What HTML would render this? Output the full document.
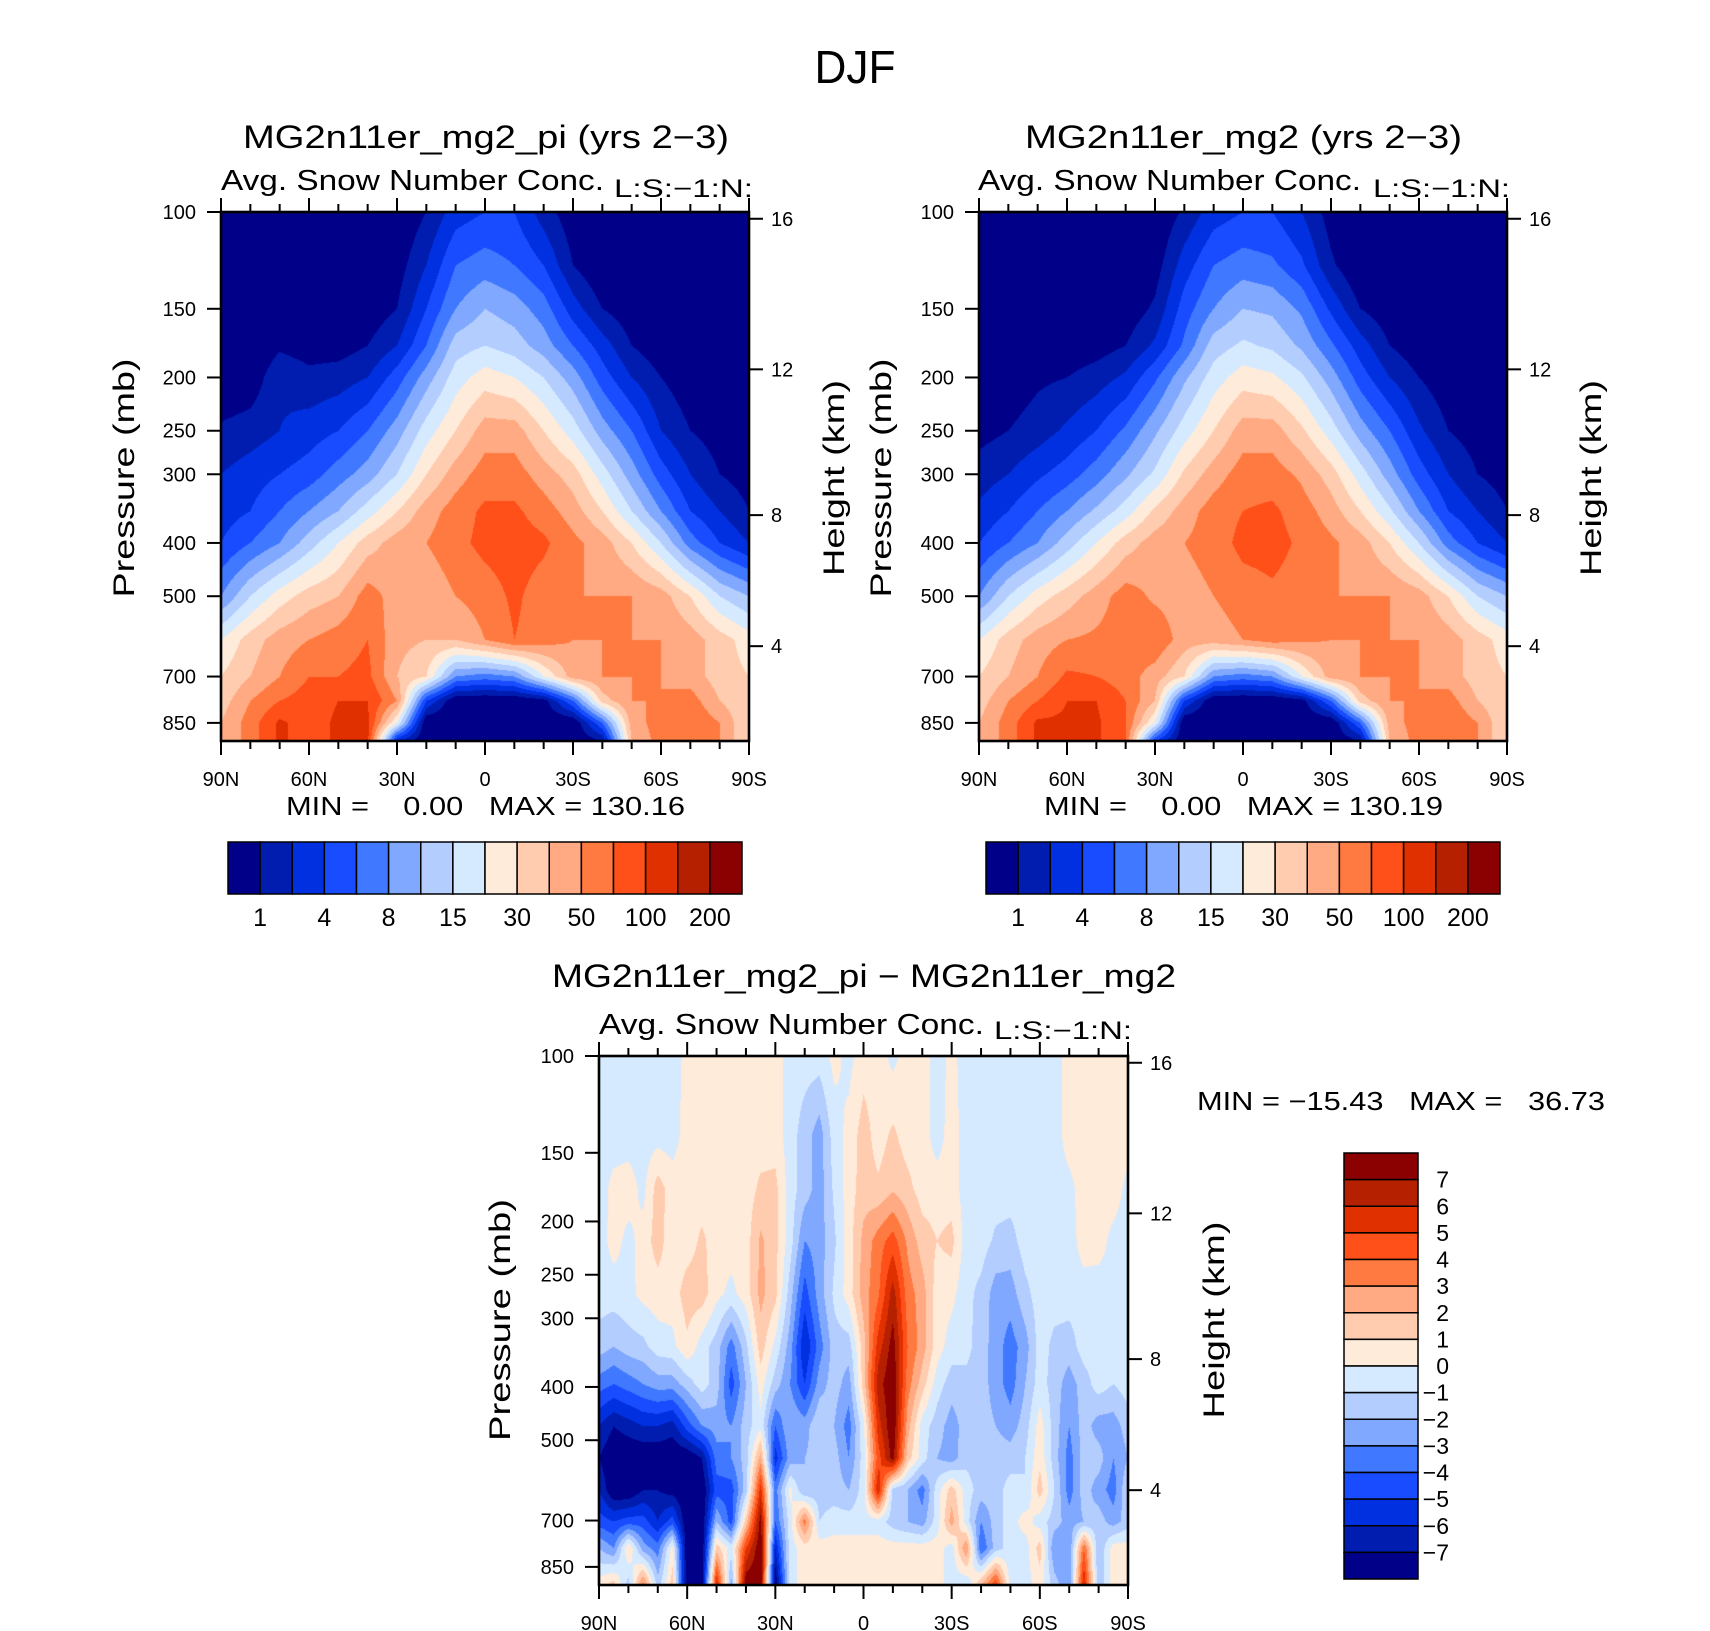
<!DOCTYPE html>
<html><head><meta charset="utf-8">
<style>
html,body{margin:0;padding:0;background:#fff;}
#wrap{position:relative;width:1710px;height:1631px;overflow:hidden;background:#fff;font-family:"Liberation Sans",sans-serif;}
canvas{position:absolute;}
svg{position:absolute;left:0;top:0;}
text{font-family:"Liberation Sans",sans-serif;fill:#000;}
</style></head>
<body>
<div id="wrap">
<canvas id="c1" width="528" height="529" style="left:221px;top:212px"></canvas>
<canvas id="c2" width="528" height="529" style="left:979px;top:212px"></canvas>
<canvas id="c3" width="529" height="529" style="left:599px;top:1056px"></canvas>
<svg id="ov" width="1710" height="1631">
<text x="855" y="83" text-anchor="middle" font-size="46" textLength="81" lengthAdjust="spacingAndGlyphs">DJF</text>
<text x="243" y="148" font-size="32" textLength="486" lengthAdjust="spacingAndGlyphs">MG2n11er_mg2_pi (yrs 2−3)</text>
<text x="1025" y="148" font-size="32" textLength="437" lengthAdjust="spacingAndGlyphs">MG2n11er_mg2 (yrs 2−3)</text>
<text x="552" y="987" font-size="32" textLength="624" lengthAdjust="spacingAndGlyphs">MG2n11er_mg2_pi − MG2n11er_mg2</text>
<text x="221" y="190" font-size="29" textLength="383" lengthAdjust="spacingAndGlyphs">Avg. Snow Number Conc.</text>
<text x="614" y="197" font-size="25" textLength="139" lengthAdjust="spacingAndGlyphs">L:S:−1:N:</text>
<text x="978" y="190" font-size="29" textLength="383" lengthAdjust="spacingAndGlyphs">Avg. Snow Number Conc.</text>
<text x="1373" y="197" font-size="25" textLength="137" lengthAdjust="spacingAndGlyphs">L:S:−1:N:</text>
<text x="599" y="1034" font-size="29" textLength="385" lengthAdjust="spacingAndGlyphs">Avg. Snow Number Conc.</text>
<text x="994" y="1039" font-size="25" textLength="138" lengthAdjust="spacingAndGlyphs">L:S:−1:N:</text>
<text x="286" y="815" font-size="26" xml:space="preserve" textLength="399" lengthAdjust="spacingAndGlyphs">MIN =    0.00   MAX = 130.16</text>
<text x="1044" y="815" font-size="26" xml:space="preserve" textLength="399" lengthAdjust="spacingAndGlyphs">MIN =    0.00   MAX = 130.19</text>
<text x="1197" y="1110" font-size="26" xml:space="preserve" textLength="408" lengthAdjust="spacingAndGlyphs">MIN = −15.43   MAX =   36.73</text>
<text transform="translate(134,478) rotate(-90)" text-anchor="middle" font-size="30" textLength="239" lengthAdjust="spacingAndGlyphs">Pressure (mb)</text>
<text transform="translate(891,478) rotate(-90)" text-anchor="middle" font-size="30" textLength="239" lengthAdjust="spacingAndGlyphs">Pressure (mb)</text>
<text transform="translate(510,1320) rotate(-90)" text-anchor="middle" font-size="30" textLength="242" lengthAdjust="spacingAndGlyphs">Pressure (mb)</text>
<text transform="translate(844,478) rotate(-90)" text-anchor="middle" font-size="30" textLength="196" lengthAdjust="spacingAndGlyphs">Height (km)</text>
<text transform="translate(1601,478) rotate(-90)" text-anchor="middle" font-size="30" textLength="196" lengthAdjust="spacingAndGlyphs">Height (km)</text>
<text transform="translate(1224,1320) rotate(-90)" text-anchor="middle" font-size="30" textLength="197" lengthAdjust="spacingAndGlyphs">Height (km)</text>
</svg>
</div>
<script>
// ---------- data ----------
const colors=['#000088','#001db0','#0030e0','#1a4cff','#4078ff','#80a8ff','#b4cdff','#d6eaff','#ffebda','#ffccb0','#ffaa82','#ff7a40','#ff5019','#e03000','#b52000','#8b0000'];
const absLevels=[1,2,4,6,8,10,15,20,30,40,50,70,100,150,200];
const absLabels=['1','4','8','15','30','50','100','200'];
const diffLevels=[-7,-6,-5,-4,-3,-2,-1,0,1,2,3,4,5,6,7];
const diffLabels=['7','6','5','4','3','2','1','0','−1','−2','−3','−4','−5','−6','−7'];
const latTickLabels=['90N','60N','30N','0','30S','60S','90S'];
const pressTicks=[100,150,200,250,300,400,500,700,850];
const heightTicks=[4,8,12,16];
const lats10=[90,80,70,60,50,40,30,20,10,0,-10,-20,-30,-40,-50,-60,-70,-80,-90];
const press1=[100,125,150,175,200,250,300,350,400,500,600,700,775,850,917];
const idx1=[
[0,0,0,0,0,0,0,1,2.5,3,3,1.5,0.3,0,0,0,0,0,0],
[0,0,0,0,0,0,0.5,2,4,4.5,4,3,1,0,0,0,0,0,0],
[0,0,0,0,0,0.3,1,3,5,6,5.5,4.5,2.5,1,0.3,0,0,0,0],
[0,0,0.8,0.5,0.5,1,2,4,6.5,7,6.5,5.5,4,2.5,1,0.3,0,0,0],
[0,0.3,1.8,1.3,1.5,2,3.5,5.5,7.5,8.5,8,7,5.5,3.5,2,1,0.3,0,0],
[1.2,1.5,2,2.5,3,4,5.5,7.5,9,10.5,10.5,9,7.5,5.5,4,2,1,0.5,0],
[2,2.5,3,3.5,4.5,5.5,7,9,10.5,11.5,11.5,10.5,9.5,7.5,5.5,3.5,2,1,0.5],
[2.5,3,4,5,6,7.5,9,10.5,11.5,12.2,12.2,11.5,10.5,9,7,5,3,2,1],
[3,4,5,6.5,8,9.5,10.5,11,11.7,12.3,12.5,12.2,11.3,10.5,9,7,4.5,3,2],
[5,7,8.5,9.5,10,11.5,10.5,10.2,11,11.5,12.2,11.5,11,11,11,10.5,9,7,6],
[8,9.5,10.5,11,11.5,12,10.3,10,10,11,12,11.5,11,11,11,11,10.5,9.5,8.5],
[9,10,11,12,12,12.3,10,9,5,4.5,5,8,10.5,11,11,11,10.5,9.5,9],
[9.5,11,12,12.5,13,13,11,3,0,0,0,0.5,4,9.5,11,11,11.5,10,9],
[10,11.5,13.2,12.5,13.2,13.2,8,0,0,0,0,0,0,4,10.5,11.5,12,11,9],
[10,11.5,13.2,12.5,13.2,13.3,2,0,0,0,0,0,0,1,10,11.5,12,11,9]];
const idx2=[
[0,0,0,0,0,0,0,1.2,2.5,3,3,2,0.5,0,0,0,0,0,0],
[0,0,0,0,0,0,0.5,2.5,4,4.5,4.2,3.2,1.2,0,0,0,0,0,0],
[0,0,0,0,0,0.3,1.2,3.5,5,6,5.8,4.8,2.8,1,0.3,0,0,0,0],
[0,0,0,0.3,0.5,1,2.2,4.2,6.5,7.2,6.8,5.8,4.2,2.5,1,0.3,0,0,0],
[0,0.3,0.8,1,1.5,2.2,3.8,5.8,7.5,8.5,8.2,7.2,5.5,3.5,2,1,0.3,0,0],
[0.6,1,1.5,2.2,3,4.2,5.8,7.5,9,10.5,10.5,9.2,7.5,5.5,4,2.2,1,0.5,0],
[1.5,2,2.8,3.5,4.5,5.8,7.2,9.2,10.5,11.5,11.5,10.8,9.5,7.5,5.5,3.5,2,1,0.5],
[2.2,3,4,5,6.2,7.5,9.2,10.5,11.5,12,12.2,11.5,10.5,9,7.2,5,3,2,1],
[3,4,5,6.5,8,9.5,10.5,11,11.5,12.3,12.4,11.8,11.2,10.5,9,7,4.5,3,2],
[5,7,8.5,9.5,10.5,11.5,10.8,10.5,11,11.5,11.8,11.5,11,11,11,10.5,9,7,6],
[8,9.5,10.5,11,11.2,11.5,11.8,10.5,10.5,11,11.5,11.2,11,11,11,11,10.5,9.5,8.5],
[9,10,11,12.2,12,11.5,10.5,9,5,4.5,5,8,10.5,11,11,11,10.5,9.5,9],
[9.5,11,12,13,13,12,10,3,0,0,0,0.5,4,9.5,11,11,11.5,10,9],
[10,11.5,13.2,13.2,13.2,12,8,0,0,0,0,0,0,4,10.5,11.5,12,11,9],
[10,11.5,13.2,13.2,13.2,12,3,0,0,0,0,0,0,1,10,11.5,12,11,9]];
const lats5=[90,85,80,75,70,65,60,55,50,45,40,35,30,25,20,15,10,5,0,-5,-10,-15,-20,-25,-30,-35,-40,-45,-50,-55,-60,-65,-70,-75,-80,-85,-90];
const press3=[100,139,174,217,271,338,395,471,539,616,703,786,917];
const snowDiff=[
[-0.5,-0.5,-0.5,-0.5,-0.5,-0.5,0.3,0.5,0.5,0.5,0.5,0.5,0.5,-0.5,-0.5,-0.5,0.3,-0.3,0.5,0.5,-0.3,0.5,0.5,-0.5,0.3,-0.5,-0.5,-0.5,-0.5,-0.5,-0.5,-0.5,0.5,0.5,0.5,0.5,0.5],
[-0.5,-0.5,-0.5,-0.5,-0.5,-0.5,0.5,0.5,0.5,0.5,0.5,0.5,0.5,-0.5,-1.5,-2.5,-0.5,0.3,1.5,0.5,1.2,0.5,0.5,-0.5,0.5,-0.5,-0.5,-0.5,-0.5,-0.5,-0.5,-0.5,0.5,0.5,0.5,0.5,0.5],
[-0.5,0.3,0.5,-0.3,1.5,0.5,0.5,0.5,0.5,0.5,0.5,1.2,1.3,-0.5,-1.5,-2.5,-0.8,0.5,1.5,1.2,1.8,1.3,0.5,0.5,0.5,-0.5,-0.5,-0.5,-0.5,-0.5,-0.5,-0.5,-0.3,0.5,0.5,0.5,-0.3],
[-0.5,0.4,-0.3,0.4,1.5,0.3,0.5,1.2,0.5,0.5,0.5,2.2,1.3,-0.5,-3,-2.5,-1.2,0.5,2.3,3.5,4.5,2.8,1.5,1,1.3,-0.5,-0.5,-1.2,-1.4,-0.5,-0.5,-0.5,-0.5,0.5,0.4,-0.3,-0.5],
[-0.5,-0.5,-0.3,0.3,0.5,0.5,1.5,1.5,0.3,-0.3,0.5,2.3,1.3,-1.5,-4.5,-2.5,-0.8,0.5,2.5,3.8,6.5,3.5,2.5,0.5,0.3,-0.7,-1.3,-2.5,-2.5,-1.3,-0.5,-0.5,-0.5,-0.5,-0.5,-0.3,-0.5],
[-1.5,-2,-1.5,-1.3,-0.5,-0.3,0.8,-0.5,-1.5,-3.5,-1.3,1.5,-0.3,-2.5,-6,-3.5,-1.5,-1.5,1.5,5.5,7.5,4,2.5,0.5,-0.5,-0.7,-1.5,-2.5,-3.5,-2.5,-0.5,-1.3,-1.5,-0.5,-0.5,-0.5,-0.5],
[-3.5,-4,-3.5,-3,-2.5,-2.5,-1.5,-0.5,-1.5,-4.5,-2,0.5,-1.5,-3,-5,-2.5,-1.5,-2.5,1.5,6.5,8,3.5,1.5,-0.5,-1.5,-1.3,-1.5,-2.5,-3.5,-2,-0.5,-1.5,-2.5,-1.5,-0.5,-1,-0.5],
[-6,-7,-6.5,-6,-6,-6.5,-4.5,-3,-2.5,-3,-1.5,-0.3,-4,-2,-2.5,-1,-2,-3.5,-0.3,5.5,8,2.5,-0.5,-1.5,-2.5,-1.5,-1.5,-2,-2.5,-1.5,0.5,-1.5,-3,-1.5,-2.5,-2.5,-1.5],
[-7,-8,-8,-8,-8,-8,-8,-7,-3.5,-3,-1.5,2.5,-5.5,-2.5,-2,-1.5,-1.5,-3,-0.5,4.5,7.5,1.5,-0.5,-2,-2.5,-1.3,-1.5,-1.5,-1.5,-1,0.7,-1.5,-3.5,-1.5,-1.5,-3,-2],
[-6,-8,-8,-7,-7,-7.5,-8,-8,-4.5,-4.5,-1.5,5.5,-3.5,0.3,-2,-1.5,-1.5,-2,-0.5,6,-1.5,-2,-3.5,-0.5,1.5,-0.5,-1.5,-1.5,-0.5,-1,1.5,-1,-3.5,-1.5,-2.5,-3.5,-1],
[-4.5,-5,-4.5,-4.5,-6,-4.5,-8,-8,-2,-4.5,1.5,7.5,-4,-0.5,3.5,-1,-0.5,-0.5,-0.5,-0.5,-1.5,-2,-2.5,-0.5,2.5,-0.5,-3,-1.5,-0.5,0.5,-0.5,-1.5,-2.5,-2,-1.5,-2.5,-1.5],
[-2,-3,1,-2.5,-3.5,0.5,-8,-8,1.5,-0.5,5,8,-6,-0.5,0.5,0.5,0.5,0.5,0.5,0.5,0.5,0.5,0.5,0.5,-0.5,3,-4,-1.5,-0.5,-0.5,1.5,-3,-3,4,-2,0.5,0.5],
[0.5,1.5,-1.5,3.5,-1.5,1.5,-8,-8,6,-2.5,8,8,-8,-0.5,0.5,0.5,0.5,0.5,0.5,0.5,0.5,0.5,0.5,0.5,-0.5,-1,2,5,-0.5,-0.5,0.5,-1.5,-3,6,-2,0.5,0.5]];
// ---------- scales ----------
const P_TOP=100,P_BOT=917;
function yOfP(p,H){return H*Math.log(p/P_TOP)/Math.log(P_BOT/P_TOP);}
function xOfLat(lat,W){return W*(90-lat)/180;}
function pOfZ(z){return z<=11?1013.25*Math.pow(1-2.2558e-5*z*1000,5.2559):226.32*Math.exp(-(z-11)/6.3416);}
function cIndex(v,lv){
  const n=lv.length;
  if(v<lv[0]){const lo=lv[0]-(lv[1]-lv[0]);return (v-lo)/(lv[1]-lv[0]);}
  for(let k=0;k<n-1;k++){if(v<lv[k+1])return k+1+(v-lv[k])/(lv[k+1]-lv[k]);}
  return n+(v-lv[n-1])/(lv[n-1]-lv[n-2]);
}
function frac(arr,val,desc){
  const n=arr.length;
  for(let i=0;i<n-1;i++){
    const a=arr[i],b=arr[i+1];
    if(desc?(val<=a&&val>=b):(val>=a&&val<=b)){return i+(val-a)/(b-a);}
  }
  return desc?(val>arr[0]?0:n-1):(val<arr[0]?0:n-1);
}
function hex(c){return [parseInt(c.substr(1,2),16),parseInt(c.substr(3,2),16),parseInt(c.substr(5,2),16)];}
const rgb=colors.map(hex);
function drawField(id,grid,lats,press,levels){
  const cv=document.getElementById(id),ctx=cv.getContext('2d');
  const W=cv.width,H=cv.height;
  const cg=grid.map(r=>r.map(v=>cIndex(v,levels)));
  const lp=press.map(p=>Math.log(p));
  const img=ctx.createImageData(W,H);
  const colF=[];
  for(let px=0;px<W;px++){const lat=90-180*(px+0.5)/W;colF.push(frac(lats,lat,true));}
  for(let py=0;py<H;py++){
    const p=Math.log(P_TOP)+(py+0.5)/H*Math.log(P_BOT/P_TOP);
    const rf=frac(lp,p,false);let r0=Math.floor(rf);if(r0>=press.length-1)r0=press.length-2;const ty=rf-r0;
    for(let px=0;px<W;px++){
      const cf=colF[px];let c0=Math.floor(cf);if(c0>=lats.length-1)c0=lats.length-2;const tx=cf-c0;
      const v=(cg[r0][c0]*(1-tx)+cg[r0][c0+1]*tx)*(1-ty)+(cg[r0+1][c0]*(1-tx)+cg[r0+1][c0+1]*tx)*ty;
      let k=Math.floor(v);if(k<0)k=0;if(k>15)k=15;
      const o=(py*W+px)*4,c=rgb[k];
      img.data[o]=c[0];img.data[o+1]=c[1];img.data[o+2]=c[2];img.data[o+3]=255;
    }
  }
  ctx.putImageData(img,0,0);
}
function toVals(g){return g.map(r=>r.map(k=>{const b=Math.floor(k),f=k-b;const lo=b===0?0:absLevels[b-1];const hi=b>=15?250:absLevels[b];return lo+(hi-lo)*f;}));}
drawField('c1',toVals(idx1),lats10,press1,absLevels);
drawField('c2',toVals(idx2),lats10,press1,absLevels);
drawField('c3',snowDiff,lats5,press3,diffLevels);
// ---------- axes ----------
const NS='http://www.w3.org/2000/svg';
const ov=document.getElementById('ov');
function mk(tag,attrs){const e=document.createElementNS(NS,tag);for(const k in attrs)e.setAttribute(k,attrs[k]);ov.appendChild(e);return e;}
function axes(ox,oy,W,H,pre){
  let e=mk('rect',{x:ox,y:oy,width:W,height:H,fill:'none',stroke:'#000','stroke-width':2.6});
  
  
  for(let lat=90;lat>=-90;lat-=10){
    const x=ox+xOfLat(lat,W),L=(lat%30===0)?14:8;
    let t=mk('line',{x1:x,y1:oy,x2:x,y2:oy-L,stroke:'#000','stroke-width':2});
    
    
    let b=mk('line',{x1:x,y1:oy+H,x2:x,y2:oy+H+L,stroke:'#000','stroke-width':2});
    
    
  }
  latTickLabels.forEach((s,i)=>{
    const x=ox+xOfLat(90-30*i,W);
    let t=mk('text',{x:x,y:oy+H+45,'text-anchor':'middle','font-size':20});
    t.textContent=s;
    
    
  });
  pressTicks.forEach(p=>{
    const y=oy+yOfP(p,H);
    let l=mk('line',{x1:ox-14,y1:y,x2:ox,y2:y,stroke:'#000','stroke-width':2});
    
    
    let t=mk('text',{x:ox-25,y:y+7,'text-anchor':'end','font-size':20});
    t.textContent=String(p);
    
    
  });
  heightTicks.forEach(z=>{
    const y=oy+yOfP(pOfZ(z),H);
    let l=mk('line',{x1:ox+W,y1:y,x2:ox+W+14,y2:y,stroke:'#000','stroke-width':2});
    
    
    let t=mk('text',{x:ox+W+22,y:y+7,'font-size':20});
    t.textContent=String(z);
    
    
  });
}
axes(221,212,528,529,'plot1');
axes(979,212,528,529,'plot2');
axes(599,1056,529,529,'plot3');
function hbar(x0,y0,w,h,pre){
  const bw=w/16;
  for(let i=0;i<16;i++){
    let r=mk('rect',{x:x0+i*bw,y:y0,width:bw,height:h,fill:colors[i],stroke:'#000','stroke-width':1.5});
    
    
  }
  absLabels.forEach((s,j)=>{
    const k=2*j+1;
    let t=mk('text',{x:x0+k*bw,y:y0+h+32,'text-anchor':'middle','font-size':25});
    t.textContent=s;
    
    
  });
}
hbar(228,842,514,52,'plot1');
hbar(986,842,514,52,'plot2');
(function(){
  const x0=1344,y0=1153,w=74,h=426,bh=h/16;
  for(let i=0;i<16;i++){
    let r=mk('rect',{x:x0,y:y0+i*bh,width:w,height:bh,fill:colors[15-i],stroke:'#000','stroke-width':1.5});
    
    
  }
  diffLabels.forEach((s,j)=>{
    let t=mk('text',{x:1449,y:y0+(j+1)*bh+8,'text-anchor':'end','font-size':23});
    t.textContent=s;
    
    
  });
})();
</script>
</body></html>
